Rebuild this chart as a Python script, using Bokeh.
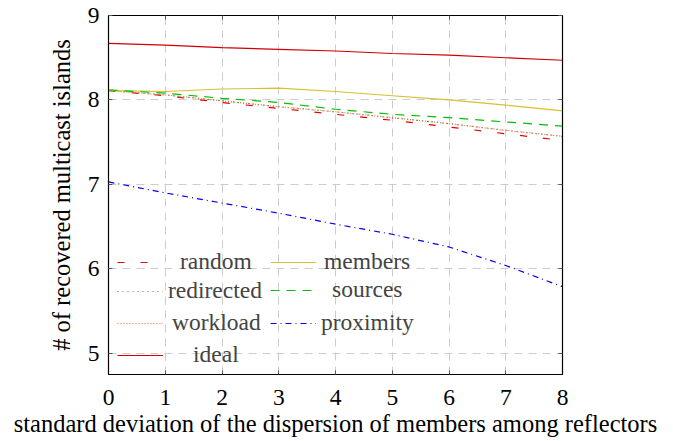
from bokeh.plotting import figure
from bokeh.models import Range1d, Legend, LegendItem, LinearAxis, FixedTicker
from bokeh.embed import file_html
from bokeh.resources import INLINE

x = [0, 1, 2, 3, 4, 5, 6, 7, 8]
random_v = [8.11, 8.05, 7.97, 7.90, 7.83, 7.76, 7.68, 7.60, 7.52]
redirected = [8.11, 8.06, 7.99, 7.92, 7.86, 7.79, 7.72, 7.64, 7.57]
workload = [8.11, 8.06, 7.99, 7.92, 7.86, 7.79, 7.72, 7.64, 7.57]
ideal = [8.67, 8.65, 8.62, 8.60, 8.58, 8.55, 8.53, 8.50, 8.47]
members = [8.11, 8.10, 8.13, 8.14, 8.10, 8.05, 8.00, 7.94, 7.87]
sources = [8.12, 8.08, 8.02, 7.97, 7.89, 7.83, 7.79, 7.74, 7.69]
proximity = [7.03, 6.90, 6.78, 6.66, 6.53, 6.41, 6.26, 6.04, 5.79]
x_ticks = [0, 1, 2, 3, 4, 5, 6, 7, 8]
y_ticks = [5, 6, 7, 8, 9]
x_title = "standard deviation of the dispersion of members among reflectors"
y_title = "# of recovered multicast islands"

FONT = "Liberation Serif"
FS = "23.5px"
FS_TITLE = "24.5px"

p = figure(width=673, height=441, output_backend="svg", toolbar_location=None,
           x_range=Range1d(0, 8), y_range=Range1d(4.75, 9),
           min_border_left=108, min_border_right=111, min_border_top=15, min_border_bottom=67)
p.background_fill_color = "white"
p.border_fill_color = "white"
p.outline_line_color = "black"
p.outline_line_width = 1.2

for ax in (p.xaxis[0], p.yaxis[0]):
    ax.major_tick_in = 4
    ax.major_tick_out = 0
    ax.minor_tick_in = 0
    ax.minor_tick_out = 0
    ax.axis_line_color = "black"
    ax.major_tick_line_color = "#555555"
    ax.major_label_text_font = FONT
    ax.major_label_text_font_size = FS
    ax.major_label_text_color = "black"
    ax.axis_label_text_font = FONT
    ax.axis_label_text_font_size = FS_TITLE
    ax.axis_label_text_font_style = "normal"
    ax.axis_label_text_color = "black"

p.xaxis.ticker = FixedTicker(ticks=x_ticks)
p.yaxis.ticker = FixedTicker(ticks=y_ticks)
p.xaxis.axis_label = x_title
p.yaxis.axis_label = y_title
p.xaxis.major_label_standoff = 15
p.yaxis.major_label_standoff = 9
p.xaxis.axis_label_standoff = 2
p.yaxis.axis_label_standoff = 10

top = LinearAxis(ticker=FixedTicker(ticks=x_ticks), major_label_overrides={t: "" for t in x_ticks},
                 major_tick_in=4, major_tick_out=0, minor_tick_in=0, minor_tick_out=0,
                 major_label_standoff=0,
                 major_tick_line_color="#555555", axis_line_color="black")
right = LinearAxis(ticker=FixedTicker(ticks=y_ticks), major_label_overrides={t: "" for t in y_ticks},
                   major_tick_in=4, major_tick_out=0, minor_tick_in=0, minor_tick_out=0,
                   major_label_standoff=0,
                   major_tick_line_color="#555555", axis_line_color="black")
p.add_layout(top, "above")
p.add_layout(right, "right")

p.xgrid.ticker = FixedTicker(ticks=x_ticks)
p.ygrid.ticker = FixedTicker(ticks=y_ticks)
for g in (p.xgrid[0], p.ygrid[0]):
    g.grid_line_color = "#cccccc"
    g.grid_line_dash = "8 6"
    g.grid_line_width = 1

lw = 1.2
r_random = p.line(x, random_v, line_color="#e00000", line_dash="7 16", line_width=lw)
r_redir = p.line(x, redirected, line_color="#707070", line_dash="1 4", line_width=lw)
r_work = p.line(x, workload, line_color="#e07030", line_dash="1 2", line_width=lw)
r_ideal = p.line(x, ideal, line_color="#d00000", line_width=lw)
r_members = p.line(x, members, line_color="#d8c030", line_width=lw)
r_sources = p.line(x, sources, line_color="#00c000", line_dash="9 7", line_width=lw)
r_prox = p.line(x, proximity, line_color="#0000ee", line_dash="6 4 1 4", line_width=lw)

# one legend per entry so each label can sit centred in its column
legend_entries = [
    ("random", r_random, (9, 99), 17),
    ("redirected", r_redir, (9, 70), 5),
    ("workload", r_work, (9, 38), 9),
    ("ideal", r_ideal, (9, 6), 30),
    ("members", r_members, (162, 99), 8),
    ("sources", r_sources, (162, 71), 16),
    ("proximity", r_prox, (162, 38), 5),
]
for label, rend, loc, standoff in legend_entries:
    lg = Legend(items=[LegendItem(label=label, renderers=[rend])], location=loc,
                orientation="vertical", background_fill_alpha=0, border_line_alpha=0,
                label_text_font=FONT, label_text_font_size=FS,
                glyph_width=46, glyph_height=22, label_height=22,
                label_standoff=standoff, spacing=0, padding=0, margin=0)
    p.add_layout(lg)

open("out.html", "w").write(file_html(p, INLINE))
